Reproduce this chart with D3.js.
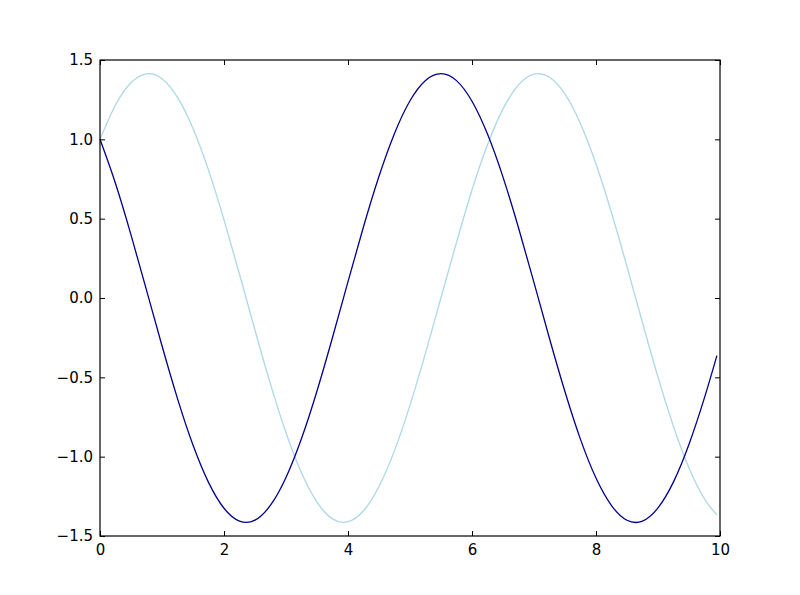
<!DOCTYPE html>
<html lang="en">
<head>
    <meta charset="UTF-8" />
    <title>Two waves</title>
    <script src="https://d3js.org/d3.v7.min.js"></script>
    <style>
        body { margin: 0; background: #fff; }
    </style>
</head>
<body>
<div id="my_chart"></div>
<script>
    // values
    var xValues = [0, 0.25, 0.5, 0.75, 1, 1.25, 1.5, 1.75, 2, 2.25, 2.5, 2.75, 3, 3.25, 3.5, 3.75,
        4, 4.25, 4.5, 4.75, 5, 5.25, 5.5, 5.75, 6, 6.25, 6.5, 6.75, 7, 7.25, 7.5, 7.75,
        8, 8.25, 8.5, 8.75, 9, 9.25, 9.5, 9.75, 9.95];

    var lightValues = [1.000, 1.216, 1.357, 1.413, 1.382, 1.264, 1.068, 0.806, 0.493, 0.150,
        -0.203, -0.543, -0.849, -1.102, -1.287, -1.392, -1.410, -1.341, -1.188, -0.962,
        -0.675, -0.347, 0.003, 0.350, 0.681, 0.966, 1.192, 1.343, 1.411, 1.391,
        1.285, 1.098, 0.844, 0.537, 0.197, -0.156, -0.499, -0.810, -1.072, -1.267, -1.367];

    var darkValues = [1.000, 0.722, 0.398, 0.050, -0.301, -0.634, -0.927, -1.162, -1.325, -1.406,
        -1.400, -1.306, -1.131, -0.886, -0.586, -0.249, 0.103, 0.449, 0.767, 1.037,
        1.243, 1.371, 1.414, 1.370, 1.240, 1.033, 0.762, 0.443, 0.097, -0.255,
        -0.591, -0.891, -1.135, -1.308, -1.401, -1.406, -1.323, -1.159, -0.922, -0.628, -0.363];

    var xTicks = [0, 2, 4, 6, 8, 10];
    var yTicks = [-1.5, -1.0, -0.5, 0.0, 0.5, 1.0, 1.5];

    var margin = { top: 60, right: 80, bottom: 59, left: 100 },
        width = 800 - margin.left - margin.right,
        height = 595 - margin.top - margin.bottom;

    const svg = d3.select("#my_chart")
        .append("svg")
        .attr("width", 800)
        .attr("height", 595)
        .append("g")
        .attr("transform", "translate(" + margin.left + "," + margin.top + ")");

    const x = d3.scaleLinear().domain([0, 10]).range([0, width]);
    const y = d3.scaleLinear().domain([-1.5, 1.5]).range([height, 0]);

    const fmtY = v => d3.format(".1f")(v).replace("-", "\u2212");

    // lines first, frame on top
    const line = vals => d3.line()
        .x((d, i) => x(xValues[i]))
        .y(d => y(d))
        .curve(d3.curveNatural)(vals);

    svg.append("path")
        .attr("d", line(lightValues))
        .attr("fill", "none")
        .attr("stroke", "#add8e6")
        .attr("stroke-width", 1.3);

    svg.append("path")
        .attr("d", line(darkValues))
        .attr("fill", "none")
        .attr("stroke", "#00008b")
        .attr("stroke-width", 1.3);

    // axes, ticks pointing inward
    const axBottom = svg.append("g")
        .attr("transform", `translate(0, ${height})`)
        .call(d3.axisBottom(x).tickValues(xTicks).tickSize(-5).tickPadding(8).tickFormat(d3.format("d")));
    const axLeft = svg.append("g")
        .call(d3.axisLeft(y).tickValues(yTicks).tickSize(-5).tickPadding(7).tickFormat(fmtY));
    const axTop = svg.append("g")
        .call(d3.axisTop(x).tickValues(xTicks).tickSize(-5).tickFormat(""));
    const axRight = svg.append("g")
        .attr("transform", `translate(${width}, 0)`)
        .call(d3.axisRight(y).tickValues(yTicks).tickSize(-5).tickFormat(""));

    [axBottom, axLeft, axTop, axRight].forEach(g => {
        g.select(".domain").remove();
        g.attr("font-family", "'DejaVu Sans', sans-serif").attr("font-size", 15);
        g.selectAll(".tick line").attr("stroke", "#000").attr("stroke-width", 1);
        g.selectAll(".tick text").attr("fill", "#000");
    });

    svg.append("rect")
        .attr("x", 0).attr("y", 0)
        .attr("width", width).attr("height", height)
        .attr("fill", "none")
        .attr("stroke", "#000")
        .attr("stroke-width", 1.2);
</script>
</body>
</html>
